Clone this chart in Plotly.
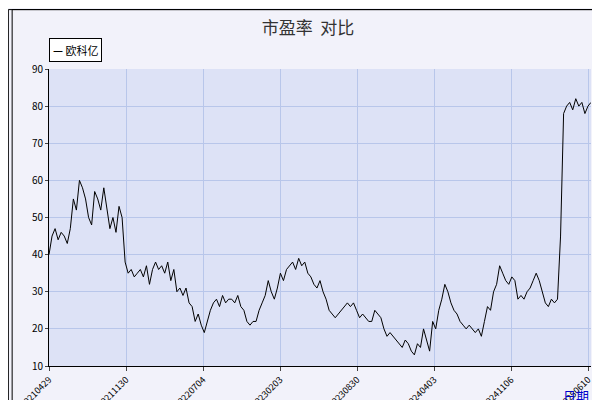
import plotly.graph_objects as go

pe_values = [
    40, 45, 47, 44, 46, 45, 43, 47, 55, 52, 60, 58, 55, 50, 48, 57, 55, 52, 58, 52,
    47, 50, 46, 53, 50, 38, 35, 36, 34, 35, 36, 34, 37, 32, 36, 38, 36, 37, 35, 38,
    33, 36, 30, 31, 29, 31, 27, 26, 22, 24, 21, 19, 22, 25, 27, 28, 26, 29, 27, 28,
    28, 27, 29, 26, 25, 22, 21, 22, 22, 25, 27, 29, 33, 30, 28, 31, 35, 33, 36, 37,
    38, 36, 39, 37, 38, 35, 34, 32, 31, 33, 30, 28, 25, 24, 23, 24, 25, 26, 27, 26,
    27, 25, 23, 24, 23, 22, 22, 25, 24, 23, 20, 18, 19, 18, 17, 16, 15, 17, 16, 14,
    13, 16, 15, 20, 17, 14, 22, 20, 25, 28, 32, 30, 27, 25, 24, 22, 21, 20, 21, 20,
    19, 20, 18, 22, 26, 25, 30, 32, 37, 35, 33, 32, 34, 33, 28, 29, 28, 30, 31, 33,
    35, 33, 30, 27, 26, 28, 27, 28, 45, 78, 80, 81, 79, 82, 80, 81, 78, 80, 81,
]
tick_labels = ['20210429', '20211130', '20220704', '20230203',
               '20230830', '20240403', '20241106', '20250610']

n = len(pe_values)
xs = list(range(n))
tickvals = [k * (n - 1) * 77 / 542 for k in range(len(tick_labels))]

fig = go.Figure(go.Scatter(x=xs, y=pe_values, mode='lines', name='欧科亿',
                           line=dict(color='black', width=1)))

font = 'Noto Sans CJK SC'
fig.update_layout(
    width=600, height=400,
    paper_bgcolor='#f2f2fa', plot_bgcolor='#dde2f6',
    margin=dict(l=41, r=17, t=61, b=42, autoexpand=False),
    font=dict(family=font, size=10, color='black'),
    title=dict(text='市盈率  对比', x=0.5, y=0.965, xanchor='center',
               font=dict(size=17, color='#333333')),
    showlegend=False,
    xaxis=dict(range=[0, n - 1], tickvals=tickvals, ticktext=tick_labels,
               tickangle=-45, gridcolor='#b8c6ea', showline=True, linecolor='black',
               ticks='outside', ticklen=4, zeroline=False, tickfont=dict(size=9),
               automargin=False),
    yaxis=dict(range=[10, 90], dtick=10, gridcolor='#b8c6ea', showline=True,
               linecolor='black', ticks='outside', ticklen=3, zeroline=False,
               automargin=False),
    shapes=[
        dict(type='rect', xref='paper', yref='paper', x0=-0.075, x1=1.03,
             y0=-0.14, y1=1.2, line=dict(color='black', width=1)),
        dict(type='rect', xref='paper', yref='paper', x0=-0.068, x1=1.03,
             y0=-0.14, y1=1.2, line=dict(color='black', width=1)),
    ],
    annotations=[
        dict(text='日期', xref='paper', yref='paper', x=1.0, y=-0.06,
             xanchor='right', yanchor='top', showarrow=False,
             font=dict(color='#0000cc', size=13)),
        dict(text='<b>—</b> 欧科亿', xref='paper', yref='paper', x=0.0, y=1.025,
             xanchor='left', yanchor='bottom', showarrow=False, bgcolor='white',
             bordercolor='black', borderwidth=1, borderpad=3,
             font=dict(size=11, color='black')),
    ],
)

fig.write_html('out.html')
